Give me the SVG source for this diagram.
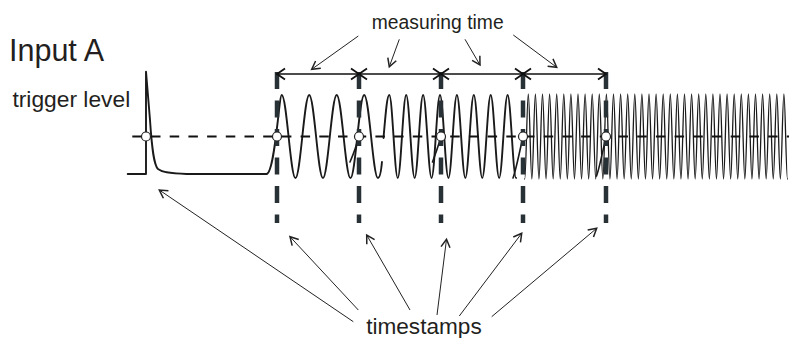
<svg xmlns="http://www.w3.org/2000/svg" width="789" height="338" viewBox="0 0 789 338">
<style>
.lbl{font-family:"Liberation Sans",Arial,sans-serif;fill:#231f20}
.wave{fill:none;stroke:#1a1a1a;stroke-linejoin:round;stroke-linecap:round}
.vdash{stroke:#283136;stroke-width:4.5;stroke-dasharray:17 11.5;fill:none}
.hdash{stroke:#111;stroke-width:2;stroke-dasharray:9.5 9.2;fill:none}
.mark{fill:#fff;stroke:#222;stroke-width:1.2}
.conn{stroke:#222;stroke-width:1;fill:none}
.meas{stroke:#111;stroke-width:1.3;fill:none}
</style>
<defs>
<marker id="ah" markerUnits="userSpaceOnUse" markerWidth="12" markerHeight="12" viewBox="-10 -6 12 12" refX="0" refY="0" orient="auto">
<path d="M-8,-4.5 L0,0 L-8,4.5" fill="none" stroke="#222" stroke-width="1.5"/>
</marker>
<marker id="mh" markerUnits="userSpaceOnUse" markerWidth="12" markerHeight="14" viewBox="-10 -7 12 14" refX="0" refY="0" orient="auto-start-reverse">
<path d="M-8,-5.5 L0,0 L-8,5.5" fill="none" stroke="#111" stroke-width="1.8"/>
</marker>
</defs>

<g id="signal">
<path class="wave" stroke-width="1.9" d="M127.7,174 L146,174 L146,71.7 L150,120 C152,150 154,165 158,169 C162,172 168,173.5 186.7,174 L266.7,174 C275,172 279,95 281.7,95 c5,0 8.75,83 13.75,83 s8.75,-83 13.75,-83 s8.75,83 13.75,83 s8.75,-83 13.75,-83 s8.75,83 13.75,83 s8.75,-83 13.75,-83 s8.75,83 13.75,83 c1.8,0 3.2,-7 4,-16"/>
<path class="wave" stroke-width="1.9" d="M383.5,138 C385.5,115 387,95 389.3,95 c3.08,0 5.37,83 8.45,83 s5.37,-83 8.45,-83 s5.37,83 8.45,83 s5.37,-83 8.45,-83 s5.37,83 8.45,83 s5.37,-83 8.45,-83 s5.37,83 8.45,83 s5.37,-83 8.45,-83 s5.37,83 8.45,83 s5.37,-83 8.45,-83 s5.37,83 8.45,83 s5.37,-83 8.45,-83 s5.37,83 8.45,83 s5.37,-83 8.45,-83 s5.37,83 8.45,83"/>
<path class="wave" stroke-width="1.3" d="M524.75,179 c1.29,0 2.26,-85 3.55,-85 s2.26,85 3.55,85 s2.26,-85 3.55,-85 s2.26,85 3.55,85 s2.26,-85 3.55,-85 s2.26,85 3.55,85 s2.26,-85 3.55,-85 s2.26,85 3.55,85 s2.26,-85 3.55,-85 s2.26,85 3.55,85 s2.26,-85 3.55,-85 s2.26,85 3.55,85 s2.26,-85 3.55,-85 s2.26,85 3.55,85 s2.26,-85 3.55,-85 s2.26,85 3.55,85 s2.26,-85 3.55,-85 s2.26,85 3.55,85 s2.26,-85 3.55,-85 s2.26,85 3.55,85 s2.26,-85 3.55,-85 s2.26,85 3.55,85 s2.26,-85 3.55,-85 s2.26,85 3.55,85 s2.26,-85 3.55,-85 s2.26,85 3.55,85 s2.26,-85 3.55,-85 s2.26,85 3.55,85 s2.26,-85 3.55,-85 s2.26,85 3.55,85 s2.26,-85 3.55,-85 s2.26,85 3.55,85 s2.26,-85 3.55,-85 s2.26,85 3.55,85 s2.26,-85 3.55,-85 s2.26,85 3.55,85 s2.26,-85 3.55,-85 s2.26,85 3.55,85 s2.26,-85 3.55,-85 s2.26,85 3.55,85 s2.26,-85 3.55,-85 s2.26,85 3.55,85 s2.26,-85 3.55,-85 s2.26,85 3.55,85 s2.26,-85 3.55,-85 s2.26,85 3.55,85 s2.26,-85 3.55,-85 s2.26,85 3.55,85 s2.26,-85 3.55,-85 s2.26,85 3.55,85 s2.26,-85 3.55,-85 s2.26,85 3.55,85 s2.26,-85 3.55,-85 s2.26,85 3.55,85 s2.26,-85 3.55,-85 s2.26,85 3.55,85 s2.26,-85 3.55,-85 s2.26,85 3.55,85 s2.26,-85 3.55,-85 s2.26,85 3.55,85 s2.26,-85 3.55,-85 s2.26,85 3.55,85 s2.26,-85 3.55,-85 s2.26,85 3.55,85 s2.26,-85 3.55,-85 s2.26,85 3.55,85 s2.26,-85 3.55,-85 s2.26,85 3.55,85 s2.26,-85 3.55,-85 s2.26,85 3.55,85 s2.26,-85 3.55,-85 s2.26,85 3.55,85 s2.26,-85 3.55,-85 s2.26,85 3.55,85"/>
<path class="wave" stroke-width="1.6" d="M350,162 C353,155 357,145 359.5,134"/>
<path class="wave" stroke-width="1.6" d="M432.5,162 C435,155 439,145 441.5,134"/>
<path class="wave" stroke-width="1.6" d="M513,178 C516,170 520,150 523.5,134"/>
<path class="wave" stroke-width="1.6" d="M596.5,176 C599.5,168 603,150 606.5,134"/>
</g>

<g id="trigger-line">
<line class="hdash" x1="132.3" y1="136.5" x2="789" y2="136.5"/>
</g>

<g id="timestamp-lines">
<line class="vdash" x1="277" y1="72" x2="277" y2="223"/>
<line class="vdash" x1="359" y1="72" x2="359" y2="223"/>
<line class="vdash" x1="441" y1="72" x2="441" y2="223"/>
<line class="vdash" x1="523" y1="72" x2="523" y2="223"/>
<line class="vdash" x1="606" y1="72" x2="606" y2="223"/>
</g>

<g id="crossings">
<circle class="mark" cx="146" cy="136.5" r="4.5"/>
<circle class="mark" cx="277" cy="136.5" r="4.5"/>
<circle class="mark" cx="359" cy="136.5" r="4.5"/>
<circle class="mark" cx="441" cy="136.5" r="4.5"/>
<circle class="mark" cx="523" cy="136.5" r="4.5"/>
<circle class="mark" cx="606" cy="136.5" r="4.5"/>
</g>

<g id="measuring-intervals">
<line class="meas" x1="277" y1="74" x2="359" y2="74" marker-start="url(#mh)" marker-end="url(#mh)"/>
<line class="meas" x1="359" y1="74" x2="441" y2="74" marker-start="url(#mh)" marker-end="url(#mh)"/>
<line class="meas" x1="441" y1="74" x2="523" y2="74" marker-start="url(#mh)" marker-end="url(#mh)"/>
<line class="meas" x1="523" y1="74" x2="606" y2="74" marker-start="url(#mh)" marker-end="url(#mh)"/>
</g>

<g id="connectors">
<line class="conn" x1="358.3" y1="36" x2="311.7" y2="69.3" marker-end="url(#ah)"/>
<line class="conn" x1="399.3" y1="39.3" x2="389.3" y2="66.7" marker-end="url(#ah)"/>
<line class="conn" x1="465" y1="39.3" x2="480" y2="65" marker-end="url(#ah)"/>
<line class="conn" x1="513.3" y1="35" x2="556.7" y2="67.3" marker-end="url(#ah)"/>
<line class="conn" x1="353.3" y1="321.7" x2="159.3" y2="190" marker-end="url(#ah)"/>
<line class="conn" x1="358.3" y1="310" x2="290" y2="236.7" marker-end="url(#ah)"/>
<line class="conn" x1="410" y1="310" x2="366.7" y2="235" marker-end="url(#ah)"/>
<line class="conn" x1="437" y1="315" x2="446.5" y2="239.3" marker-end="url(#ah)"/>
<line class="conn" x1="459.3" y1="316" x2="521.7" y2="233.3" marker-end="url(#ah)"/>
<line class="conn" x1="491.7" y1="316.7" x2="596.7" y2="228.3" marker-end="url(#ah)"/>
</g>

<g id="label-input"><text class="lbl" x="9" y="61" font-size="30.5">Input A</text></g>
<g id="label-trigger"><text class="lbl" x="12.4" y="106.7" font-size="22.8">trigger level</text></g>
<g id="label-measuring"><text class="lbl" x="371.8" y="29.3" font-size="19.3">measuring time</text></g>
<g id="label-timestamps"><text class="lbl" x="366.2" y="334" font-size="22.6">timestamps</text></g>
</svg>
